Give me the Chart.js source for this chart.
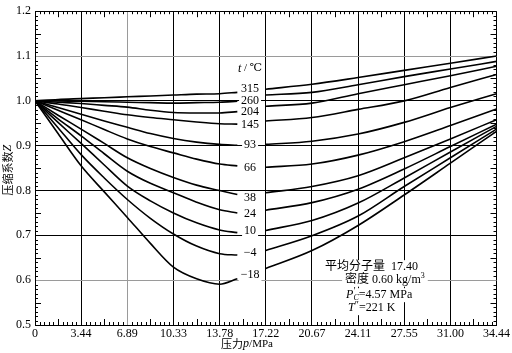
<!DOCTYPE html>
<html>
<head>
<meta charset="utf-8">
<script src="https://cdn.jsdelivr.net/npm/chart.js@4.4.1/dist/chart.umd.min.js"></script>
<style>
  html, body { margin: 0; padding: 0; background: #fff; }
  #caixa { width: 512px; height: 353px; }
</style>
</head>
<body>
<div id="caixa"><canvas id="graficoZ"></canvas></div>
<script>
// pressão (MPa) e fator de compressibilidade Z por temperatura (°C)
const PRESSURE = [0, 1.72, 3.44, 5.17, 6.89, 8.61, 10.33, 12.06, 13.78, 15.1, 17.22, 20.67, 24.11, 27.55, 31.0, 34.44];
const X_TICKS = [0, 3.44, 6.89, 10.33, 13.78, 17.22, 20.67, 24.11, 27.55, 31.00, 34.44];
const X_TICK_LABELS = ['0', '3.44', '6.89', '10.33', '13.78', '17.22', '20.67', '24.11', '27.55', '31.00', '34.44'];
const Y_TICKS = [0.5, 0.6, 0.7, 0.8, 0.9, 1.0, 1.1, 1.2];
const TEMP_LABELS = ['315', '260', '204', '145', '93', '66', '38', '24', '10', '−4', '−18'];

const Z_315 = [1.000, 1.003, 1.005, 1.007, 1.009, 1.011, 1.013, 1.015, 1.016, 1.019, 1.026, 1.037, 1.052, 1.068, 1.084, 1.100];
const Z_260 = [1.000, 1.000, 0.999, 0.998, 0.997, 0.996, 0.995, 0.996, 0.997, 0.999, 1.013, 1.019, 1.036, 1.054, 1.071, 1.088];
const Z_204 = [1.000, 0.997, 0.994, 0.990, 0.986, 0.979, 0.974, 0.973, 0.973, 0.976, 0.988, 0.995, 1.016, 1.036, 1.056, 1.077];
const Z_145 = [1.000, 0.993, 0.985, 0.977, 0.969, 0.963, 0.958, 0.953, 0.949, 0.948, 0.955, 0.963, 0.981, 1.000, 1.030, 1.059];
const Z_93  = [1.000, 0.985, 0.970, 0.955, 0.941, 0.927, 0.916, 0.908, 0.903, 0.901, 0.903, 0.910, 0.926, 0.952, 0.985, 1.016];
const Z_66  = [1.000, 0.979, 0.958, 0.936, 0.915, 0.898, 0.884, 0.870, 0.859, 0.855, 0.852, 0.859, 0.879, 0.909, 0.945, 0.982];
const Z_38  = [1.000, 0.968, 0.937, 0.905, 0.873, 0.849, 0.829, 0.812, 0.800, 0.791, 0.795, 0.809, 0.833, 0.873, 0.915, 0.958];
const Z_24  = [1.000, 0.960, 0.922, 0.882, 0.843, 0.816, 0.795, 0.774, 0.757, 0.750, 0.756, 0.773, 0.803, 0.848, 0.898, 0.948];
const Z_10  = [1.000, 0.952, 0.905, 0.857, 0.810, 0.777, 0.750, 0.728, 0.712, 0.706, 0.711, 0.733, 0.772, 0.828, 0.886, 0.943];
const Z_M4  = [1.000, 0.940, 0.880, 0.828, 0.780, 0.738, 0.703, 0.676, 0.659, 0.656, 0.666, 0.699, 0.743, 0.809, 0.873, 0.937];
const Z_M18 = [1.000, 0.927, 0.855, 0.797, 0.740, 0.682, 0.629, 0.603, 0.591, 0.603, 0.626, 0.666, 0.722, 0.790, 0.861, 0.932];

const SERIES = [Z_315, Z_260, Z_204, Z_145, Z_93, Z_66, Z_38, Z_24, Z_10, Z_M4, Z_M18];

const SERIF = '"Liberation Serif", "DejaVu Serif", "Noto Sans CJK SC", serif';

// curva interrompida onde fica o rótulo da temperatura
function serie(z) {
  const pts = PRESSURE.map((p, i) => ({ x: p, y: z[i] }));
  pts.splice(10, 0, { x: 16.1, y: null });
  return pts;
}

function partsWidth(ctx, parts) {
  let w = 0;
  parts.forEach(p => { ctx.font = p.font; if (!p.stay) w += ctx.measureText(p.t).width; });
  return w;
}
function drawParts(ctx, parts, x, y) {
  let cx = x;
  parts.forEach(p => {
    ctx.font = p.font;
    ctx.fillText(p.t, cx, y + (p.dy || 0));
    if (!p.stay) cx += ctx.measureText(p.t).width;
  });
}

const decor = {
  id: 'decor',
  afterDraw(chart) {
    const { ctx, chartArea: a, scales: { x, y } } = chart;
    ctx.save();
    // marcas menores nas quatro bordas
    ctx.strokeStyle = '#000';
    ctx.lineWidth = 1;
    ctx.beginPath();
    for (let i = 0; i < X_TICKS.length - 1; i++) {
      for (let k = 1; k < 10; k++) {
        const v = X_TICKS[i] + (X_TICKS[i + 1] - X_TICKS[i]) * k / 10;
        const px = Math.round(x.getPixelForValue(v)) + 0.5;
        const len = k === 5 ? 6 : 3;
        ctx.moveTo(px, a.top); ctx.lineTo(px, a.top + len);
        ctx.moveTo(px, a.bottom); ctx.lineTo(px, a.bottom - len);
      }
    }
    for (let v = 50; v < 120; v++) {
      if (v % 10 === 0) continue;
      const py = Math.round(y.getPixelForValue(v / 100)) + 0.5;
      const len = v % 5 === 0 ? 6 : 3;
      ctx.moveTo(a.left, py); ctx.lineTo(a.left + len, py);
      ctx.moveTo(a.right, py); ctx.lineTo(a.right - len, py);
    }
    ctx.stroke();

    ctx.fillStyle = '#000';
    ctx.textBaseline = 'middle';

    // rótulos das temperaturas
    const labelZ = [1.027, 0.999, 0.975, 0.946, 0.901, 0.850, 0.784, 0.747, 0.709, 0.660, 0.611];
    const lx = x.getPixelForValue(16.05);
    ctx.font = '12px ' + SERIF;
    TEMP_LABELS.forEach((t, i) => {
      const ly = y.getPixelForValue(labelZ[i]);
      const w = ctx.measureText(t).width;
      ctx.fillStyle = '#fff';
      ctx.fillRect(lx - w / 2 - 2, ly - 6, w + 4, 12);
      ctx.fillStyle = '#000';
      ctx.textAlign = 'center';
      ctx.fillText(t, lx, ly);
    });
    ctx.textAlign = 'left';
    const hy = y.getPixelForValue(1.072);
    const head = [
      { t: 't', font: 'italic 12px ' + SERIF },
      { t: ' / ℃', font: '11px ' + SERIF }
    ];
    drawParts(ctx, head, lx - partsWidth(ctx, head) / 2, hy);

    // caixa de informações
    const bx = x.getPixelForValue(21.65);
    const by = y.getPixelForValue(0.629);
    const f12 = '12px ' + SERIF;
    const linhas = [
      { dx: 0, dy: 0, parts: [{ t: '平均分子量  17.40', font: f12 }] },
      { dx: 20, dy: 12.5, parts: [{ t: '密度 0.60 kg/m', font: f12 }, { t: '3', font: '8px ' + SERIF, dy: -4 }] },
      { dx: 21, dy: 28, parts: [
        { t: 'P', font: 'italic 12px ' + SERIF },
        { t: '′', font: '10px ' + SERIF, dy: -4, stay: true },
        { t: 'C', font: 'italic 8px ' + SERIF, dy: 3 },
        { t: '=4.57 MPa', font: f12 }
      ] },
      { dx: 23, dy: 41, parts: [
        { t: 'T', font: 'italic 12px ' + SERIF },
        { t: '″', font: '10px ' + SERIF, dy: -3 },
        { t: '=221 K', font: f12 }
      ] }
    ];
    linhas.forEach(l => {
      const w = partsWidth(ctx, l.parts);
      ctx.fillStyle = '#fff';
      ctx.fillRect(bx + l.dx - 3, by + l.dy - 7, w + 6, 14);
    });
    ctx.fillStyle = '#000';
    linhas.forEach(l => drawParts(ctx, l.parts, bx + l.dx, by + l.dy));

    // títulos dos eixos
    const tx = [
      { t: '压力', font: '11px "Noto Sans CJK SC", sans-serif' },
      { t: 'p', font: 'italic 12px ' + SERIF },
      { t: '/MPa', font: '11px ' + SERIF }
    ];
    drawParts(ctx, tx, 247 - partsWidth(ctx, tx) / 2, 344);

    const ty = [
      { t: '压缩系数', font: '11px "Noto Sans CJK SC", sans-serif' },
      { t: 'Z', font: 'italic 12px ' + SERIF }
    ];
    ctx.translate(8, (a.top + a.bottom) / 2 + 2);
    ctx.rotate(-Math.PI / 2);
    drawParts(ctx, ty, -partsWidth(ctx, ty) / 2, 0);
    ctx.restore();
  }
};

const gray = '#9a9a9a';

new Chart(document.getElementById('graficoZ'), {
  type: 'line',
  data: {
    datasets: SERIES.map((z, i) => ({
      label: TEMP_LABELS[i],
      data: serie(z),
      borderColor: '#000',
      borderWidth: 1.6,
      pointRadius: 0,
      fill: false,
      spanGaps: false,
      cubicInterpolationMode: 'monotone'
    }))
  },
  options: {
    responsive: true,
    maintainAspectRatio: false,
    animation: false,
    devicePixelRatio: 1,
    layout: { autoPadding: false, padding: { top: 5, right: 13, left: 0, bottom: 0 } },
    plugins: { legend: { display: false }, tooltip: { enabled: false } },
    scales: {
      x: {
        type: 'linear',
        min: 0,
        max: 34.44,
        afterBuildTicks: s => { s.ticks = X_TICKS.map(v => ({ value: v })); },
        afterFit: s => { s.height = 28; },
        ticks: {
          autoSkip: false,
          maxRotation: 0,
          padding: 2,
          color: '#000',
          font: { family: SERIF, size: 12 },
          callback: (v, i) => X_TICK_LABELS[i]
        },
        grid: {
          drawTicks: false,
          lineWidth: 1,
          color: c => (c.tick && Math.abs(c.tick.value - 6.89) < 0.01) ? gray : '#000'
        },
        border: { color: '#000', width: 1 }
      },
      y: {
        type: 'linear',
        min: 0.5,
        max: 1.2,
        afterBuildTicks: s => { s.ticks = Y_TICKS.map(v => ({ value: v })); },
        afterFit: s => { s.width = 35; },
        ticks: {
          padding: 4,
          color: '#000',
          font: { family: SERIF, size: 12 },
          callback: v => v.toFixed(1)
        },
        grid: {
          drawTicks: false,
          lineWidth: 1,
          color: c => (c.tick && (Math.abs(c.tick.value - 1.1) < 0.001 || Math.abs(c.tick.value - 0.6) < 0.001)) ? gray : '#000'
        },
        border: { color: '#000', width: 1 }
      }
    }
  },
  plugins: [decor]
});
</script>
</body>
</html>
